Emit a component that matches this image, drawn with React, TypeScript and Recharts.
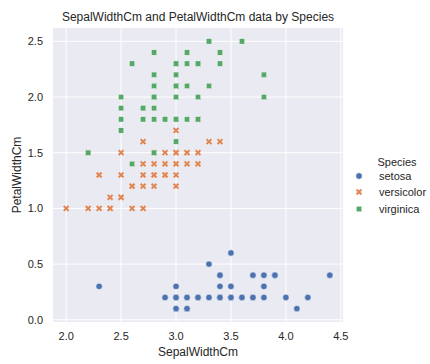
import React from 'react';
import { ScatterChart, Scatter, XAxis, YAxis, CartesianGrid, Label } from 'recharts';

const FONT = '"Liberation Sans", Arial, sans-serif';
const TEXT = '#262626';

const speciesNames = ['setosa', 'versicolor', 'virginica'];
const speciesColors = ['#4C72B0', '#DD8452', '#55A868'];

const setosaSepalWidth = [3.5, 3.0, 3.2, 3.1, 3.6, 3.9, 3.4, 3.4, 2.9, 3.1, 3.7, 3.4, 3.0, 3.0, 4.0, 4.4, 3.9, 3.5, 3.8, 3.8, 3.4, 3.7, 3.6, 3.3, 3.4, 3.0, 3.4, 3.5, 3.4, 3.2, 3.1, 3.4, 4.1, 4.2, 3.1, 3.2, 3.5, 3.1, 3.0, 3.4, 3.5, 2.3, 3.2, 3.5, 3.8, 3.0, 3.8, 3.2, 3.7, 3.3];
const setosaPetalWidth = [0.2, 0.2, 0.2, 0.2, 0.2, 0.4, 0.3, 0.2, 0.2, 0.1, 0.2, 0.2, 0.1, 0.1, 0.2, 0.4, 0.4, 0.3, 0.3, 0.3, 0.2, 0.4, 0.2, 0.5, 0.2, 0.2, 0.4, 0.2, 0.2, 0.2, 0.2, 0.4, 0.1, 0.2, 0.1, 0.2, 0.2, 0.1, 0.2, 0.2, 0.3, 0.3, 0.2, 0.6, 0.4, 0.3, 0.2, 0.2, 0.2, 0.2];

const versicolorSepalWidth = [3.2, 3.2, 3.1, 2.3, 2.8, 2.8, 3.3, 2.4, 2.9, 2.7, 2.0, 3.0, 2.2, 2.9, 2.9, 3.1, 3.0, 2.7, 2.2, 2.5, 3.2, 2.8, 2.5, 2.8, 2.9, 3.0, 2.8, 3.0, 2.9, 2.6, 2.4, 2.4, 2.7, 2.7, 3.0, 3.4, 3.1, 2.3, 3.0, 2.5, 2.6, 3.0, 2.6, 2.3, 2.7, 3.0, 2.9, 2.9, 2.5, 2.8];
const versicolorPetalWidth = [1.4, 1.5, 1.5, 1.3, 1.5, 1.3, 1.6, 1.0, 1.3, 1.4, 1.0, 1.5, 1.0, 1.4, 1.3, 1.4, 1.5, 1.0, 1.5, 1.1, 1.8, 1.3, 1.5, 1.2, 1.3, 1.4, 1.4, 1.7, 1.5, 1.0, 1.1, 1.0, 1.2, 1.6, 1.5, 1.6, 1.5, 1.3, 1.3, 1.3, 1.2, 1.4, 1.2, 1.0, 1.3, 1.2, 1.3, 1.3, 1.1, 1.3];

const virginicaSepalWidth = [3.3, 2.7, 3.0, 2.9, 3.0, 3.0, 2.5, 2.9, 2.5, 3.6, 3.2, 2.7, 3.0, 2.5, 2.8, 3.2, 3.0, 3.8, 2.6, 2.2, 3.2, 2.8, 2.8, 2.7, 3.3, 3.2, 2.8, 3.0, 2.8, 3.0, 2.8, 3.8, 2.8, 2.8, 2.6, 3.0, 3.4, 3.1, 3.0, 3.1, 3.1, 3.1, 2.7, 3.2, 3.3, 3.0, 2.5, 3.0, 3.4, 3.0];
const virginicaPetalWidth = [2.5, 1.9, 2.1, 1.8, 2.2, 2.1, 1.7, 1.8, 1.8, 2.5, 2.0, 1.9, 2.1, 2.0, 2.4, 2.3, 1.8, 2.2, 2.3, 1.5, 2.3, 2.0, 2.0, 1.8, 2.1, 1.8, 1.8, 1.8, 2.1, 1.6, 1.9, 2.0, 2.2, 1.5, 1.4, 2.3, 2.4, 1.8, 1.8, 2.1, 2.4, 2.3, 1.9, 2.3, 2.5, 2.3, 1.9, 2.0, 2.3, 1.8];

const xTicks = [2.0, 2.5, 3.0, 3.5, 4.0, 4.5];
const yTicks = [0.0, 0.5, 1.0, 1.5, 2.0, 2.5];

const zip = (xs: number[], ys: number[]) => xs.map((x, i) => ({ x, y: ys[i] }));
const setosaData = zip(setosaSepalWidth, setosaPetalWidth);
const versicolorData = zip(versicolorSepalWidth, versicolorPetalWidth);
const virginicaData = zip(virginicaSepalWidth, virginicaPetalWidth);

const xPath = (cx: number, cy: number, L: number, w: number) => {
  const pts: [number, number][] = [
    [-w, -L], [w, -L], [w, -w], [L, -w], [L, w], [w, w], [w, L], [-w, L], [-w, w], [-L, w], [-L, -w], [-w, -w],
  ];
  const c = Math.SQRT1_2;
  return pts
    .map(([px, py], i) => {
      const rx = (px - py) * c;
      const ry = (px + py) * c;
      return `${i === 0 ? 'M' : 'L'}${(cx + rx).toFixed(2)},${(cy + ry).toFixed(2)}`;
    })
    .join(' ') + ' Z';
};

const CircleMark = (p: any) => (
  <circle cx={p.cx} cy={p.cy} r={3.2} fill={speciesColors[0]} stroke="#fff" strokeWidth={0.5} />
);
const XMark = (p: any) => (
  <path d={xPath(p.cx, p.cy, 3.6, 1.15)} fill={speciesColors[1]} stroke="#fff" strokeWidth={0.4} />
);
const SquareMark = (p: any) => (
  <rect x={p.cx - 2.7} y={p.cy - 2.7} width={5.4} height={5.4} fill={speciesColors[2]} stroke="#fff" strokeWidth={0.4} />
);

const legendIcons = [
  <svg width={10} height={10} key="a"><circle cx={5} cy={5} r={3.2} fill={speciesColors[0]} stroke="#fff" strokeWidth={0.5} /></svg>,
  <svg width={10} height={10} key="b"><path d={xPath(5, 5, 3.6, 1.15)} fill={speciesColors[1]} stroke="#fff" strokeWidth={0.4} /></svg>,
  <svg width={10} height={10} key="c"><rect x={2.3} y={2.3} width={5.4} height={5.4} fill={speciesColors[2]} stroke="#fff" strokeWidth={0.4} /></svg>,
];

const YLabel = () => (
  <text
    x={17}
    y={175}
    transform="rotate(-90 17 175)"
    textAnchor="middle"
    dominantBaseline="central"
    fontSize={12}
    fontFamily={FONT}
    fill={TEXT}
  >
    PetalWidthCm
  </text>
);

export default function App() {
  const tickStyle = { fontSize: 11, fontFamily: FONT, fill: TEXT };
  return (
    <div style={{ position: 'absolute', left: 0, top: 0, width: 430, height: 364, background: '#fff', fontFamily: FONT }}>
      <div
        style={{
          position: 'absolute', left: 53, top: 10, width: 290, height: 14, lineHeight: '14px',
          fontSize: 12, color: TEXT, textAlign: 'center', whiteSpace: 'nowrap',
        }}
      >
        SepalWidthCm and PetalWidthCm data by Species
      </div>
      <ScatterChart width={430} height={364} margin={{ top: 28, right: 87, bottom: 0, left: 0 }}>
        <CartesianGrid fill="#EAEAF2" stroke="#FFFFFF" strokeWidth={1} horizontalValues={yTicks} verticalValues={xTicks} />
        <XAxis
          type="number"
          dataKey="x"
          domain={[1.88, 4.52]}
          ticks={xTicks}
          tickFormatter={(v: number) => v.toFixed(1)}
          axisLine={false}
          tickLine={false}
          tickSize={0}
          tickMargin={10}
          height={42}
          tick={tickStyle}
          allowDataOverflow
        >
          <Label value="SepalWidthCm" position="insideBottom" offset={8} fontSize={12} fontFamily={FONT} fill={TEXT} />
        </XAxis>
        <YAxis
          type="number"
          dataKey="y"
          domain={[-0.02, 2.62]}
          ticks={yTicks}
          tickFormatter={(v: number) => v.toFixed(1)}
          axisLine={false}
          tickLine={false}
          tickSize={0}
          tickMargin={10}
          width={53}
          tick={tickStyle}
          allowDataOverflow
        >
          <Label content={<YLabel />} />
        </YAxis>
        <Scatter name={speciesNames[0]} data={setosaData} shape={CircleMark} isAnimationActive={false} />
        <Scatter name={speciesNames[1]} data={versicolorData} shape={XMark} isAnimationActive={false} />
        <Scatter name={speciesNames[2]} data={virginicaData} shape={SquareMark} isAnimationActive={false} />
      </ScatterChart>
      <div style={{ position: 'absolute', left: 362, top: 154, width: 70, height: 16, lineHeight: '16px', fontSize: 11, color: TEXT, textAlign: 'center' }}>
        Species
      </div>
      {speciesNames.map((name, i) => (
        <div key={name} style={{ position: 'absolute', left: 354, top: 168 + i * 16.4, height: 16, display: 'flex', alignItems: 'center', fontSize: 11, color: TEXT }}>
          {legendIcons[i]}
          <span style={{ marginLeft: 15, lineHeight: '16px' }}>{name}</span>
        </div>
      ))}
    </div>
  );
}
